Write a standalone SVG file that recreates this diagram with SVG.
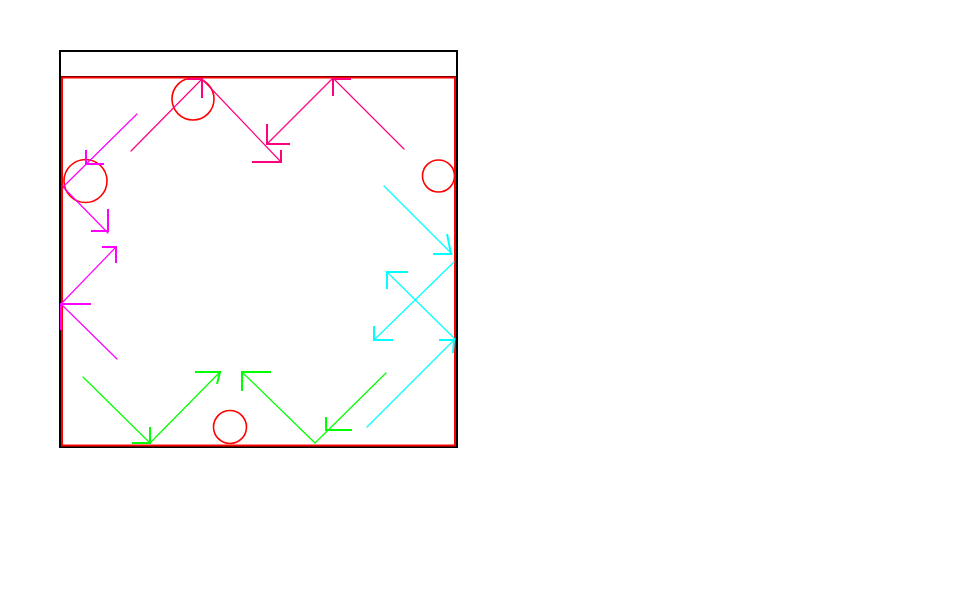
<svg xmlns="http://www.w3.org/2000/svg" width="959" height="611" viewBox="0 0 959 611">
<style>
.ball{fill:none;stroke:#ff0000;stroke-width:1.6}
.path{fill:none;stroke-width:1.2;stroke-linecap:round;stroke-linejoin:round}
.head{fill:none;stroke-width:2}
.pink{stroke:#ff0080}
.mag{stroke:#ff00ff}
.cyan{stroke:#00ffff}
.green{stroke:#00ff00}
</style>
<rect width="959" height="611" fill="#ffffff"/>
<g id="box">
<rect x="60" y="51" width="397" height="396" fill="none" stroke="#000000" stroke-width="2"/>
<line x1="59" y1="77" x2="457" y2="77" stroke="#000000" stroke-width="2"/>
<rect x="62" y="77.5" width="393" height="368" fill="none" stroke="#ff0000" stroke-width="2"/>
</g>
<g id="balls">
<circle class="ball" cx="193" cy="99" r="21"/>
<circle class="ball" cx="85.5" cy="181" r="21.5"/>
<circle class="ball" cx="438.5" cy="176" r="16"/>
<circle class="ball" cx="230" cy="427" r="16.5"/>
</g>
<g id="connectors">
<g id="top-a" class="pink">
<polyline class="path pink" points="131,151 202,79 281,162"/>
<polyline class="head pink" points="187,79 202,79 202,98"/>
<polyline class="head pink" points="252,162 281,162 281,150"/>
</g>
<g id="top-b">
<polyline class="path pink" points="404,149 333,78 267,144"/>
<polyline class="head pink" points="351,79 333,79 333,96"/>
<polyline class="head pink" points="267,124 267,144 290,144"/>
</g>
<g id="left-c">
<polyline class="path mag" points="137,114 63,187 108,233"/>
<polyline class="head mag" points="86,150 86,164 104,164"/>
<polyline class="head mag" points="91,231 108,231 108,209"/>
</g>
<g id="left-d">
<polyline class="path mag" points="117,359 61,304 116,247"/>
<polyline class="head mag" points="91,304 61,304 61,330"/>
<polyline class="head mag" points="102,247 116,247 116,263"/>
</g>
<g id="right-e">
<line class="path cyan" x1="384" y1="186" x2="452" y2="254"/>
<polyline class="head cyan" points="447,234 451,254 433,254"/>
<line class="path cyan" x1="454" y1="262" x2="374" y2="340"/>
<polyline class="head cyan" points="374,326 374,340 393,340"/>
</g>
<g id="right-g">
<polyline class="path cyan" points="367,427 455,339 387,272"/>
<polyline class="head cyan" points="439,340 454,340 453,353"/>
<polyline class="head cyan" points="408,272 387,272 387,289"/>
</g>
<g id="bottom-i">
<polyline class="path green" points="83,377 150,443 220,372"/>
<polyline class="head green" points="150,427 150,443 132,443"/>
<polyline class="head green" points="195,372 220,372 217,384"/>
</g>
<g id="bottom-j">
<polyline class="path green" points="386,373 315,443 242,372"/>
<polyline class="head green" points="326,417 326,430 352,430"/>
<polyline class="head green" points="271,372 242,372 242,391"/>
</g>
</g>
</svg>
